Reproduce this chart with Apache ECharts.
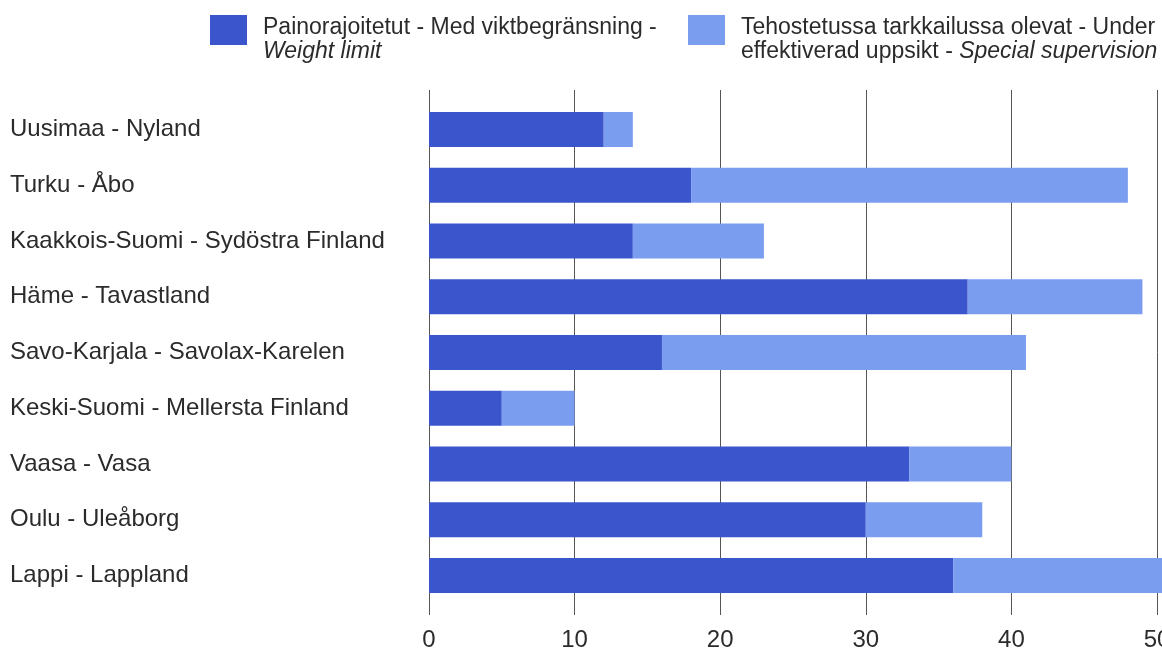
<!DOCTYPE html>
<html>
<head>
<meta charset="utf-8">
<script src="https://cdn.jsdelivr.net/npm/echarts@6/dist/echarts.min.js"></script>
<style>
  html, body { margin: 0; padding: 0; background: #fff; }
  #chart { width: 1162px; height: 648px; }
</style>
</head>
<body>
<div id="chart"></div>
<script>
// regions, top to bottom
var regions = [
  "Uusimaa - Nyland",
  "Turku - Åbo",
  "Kaakkois-Suomi - Sydöstra Finland",
  "Häme - Tavastland",
  "Savo-Karjala - Savolax-Karelen",
  "Keski-Suomi - Mellersta Finland",
  "Vaasa - Vasa",
  "Oulu - Uleåborg",
  "Lappi - Lappland"
];
var weightLimit = [12, 18, 14, 37, 16, 5, 33, 30, 36];
var specialSupervision = [2, 30, 9, 12, 25, 5, 7, 8, 16];
var xTicks = [0, 10, 20, 30, 40, 50, 60];

var darkBlue = "#3b55cd";
var lightBlue = "#7b9df0";
var font = "Liberation Sans, Arial, sans-serif";

// plot geometry: 0 at x=429, 14.56 px per unit, runs past the right edge
var plotLeft = 429;
var pxPerUnit = 14.56;
var xMax = xTicks[xTicks.length - 1];
var plotWidth = xMax * pxPerUnit;

var legendText = {
  fontFamily: font,
  fontSize: 23,
  color: "#2b2b2b",
  lineHeight: 24,
  padding: [20, 0, 0, 11],
  rich: {
    i: { fontFamily: font, fontSize: 23, fontStyle: "italic", color: "#2b2b2b", lineHeight: 24 }
  }
};

var chart = echarts.init(document.getElementById("chart"));
var option = {
  animation: false,
  legend: [
    {
      left: 210, top: -4, padding: 0,
      itemWidth: 37, itemHeight: 30,
      icon: "rect",
      data: ["weight"],
      textStyle: legendText,
      formatter: function () {
        return "Painorajoitetut - Med viktbegränsning -\n{i|Weight limit}";
      }
    },
    {
      left: 688, top: -4, padding: 0,
      itemWidth: 37, itemHeight: 30,
      icon: "rect",
      data: ["special"],
      textStyle: legendText,
      formatter: function () {
        return "Tehostetussa tarkkailussa olevat - Under\neffektiverad uppsikt - {i|Special supervision}";
      }
    }
  ],
  grid: [
    // bars
    { left: plotLeft, width: plotWidth, top: 101.6, height: 501.8, outerBoundsMode: "none", containLabel: false },
    // grid lines + x labels (lines stick out above and below the bars)
    { left: plotLeft, width: plotWidth, top: 90, height: 525, outerBoundsMode: "none", containLabel: false }
  ],
  xAxis: [
    { type: "value", gridIndex: 0, min: 0, max: xMax, interval: 10, show: false },
    {
      type: "value", gridIndex: 1, min: 0, max: xMax, interval: 10,
      axisLine: { show: false },
      axisTick: { show: false },
      splitLine: { show: true, lineStyle: { color: "#555", width: 1 } },
      axisLabel: { fontFamily: font, fontSize: 24, color: "#2b2b2b", margin: 13 }
    }
  ],
  yAxis: [
    {
      type: "category", gridIndex: 0, data: regions, inverse: true,
      axisLine: { show: false },
      axisTick: { show: false },
      axisLabel: { align: "left", margin: plotLeft - 10, fontFamily: font, fontSize: 24, color: "#2b2b2b" }
    },
    {
      type: "category", gridIndex: 1, data: regions, show: false
    }
  ],
  series: [
    {
      name: "weight", type: "bar", stack: "total",
      xAxisIndex: 0, yAxisIndex: 0,
      barWidth: 35,
      itemStyle: { color: darkBlue },
      data: weightLimit
    },
    {
      name: "special", type: "bar", stack: "total",
      xAxisIndex: 0, yAxisIndex: 0,
      barWidth: 35,
      itemStyle: { color: lightBlue },
      data: specialSupervision
    }
  ]
};
chart.setOption(option);
</script>
</body>
</html>
